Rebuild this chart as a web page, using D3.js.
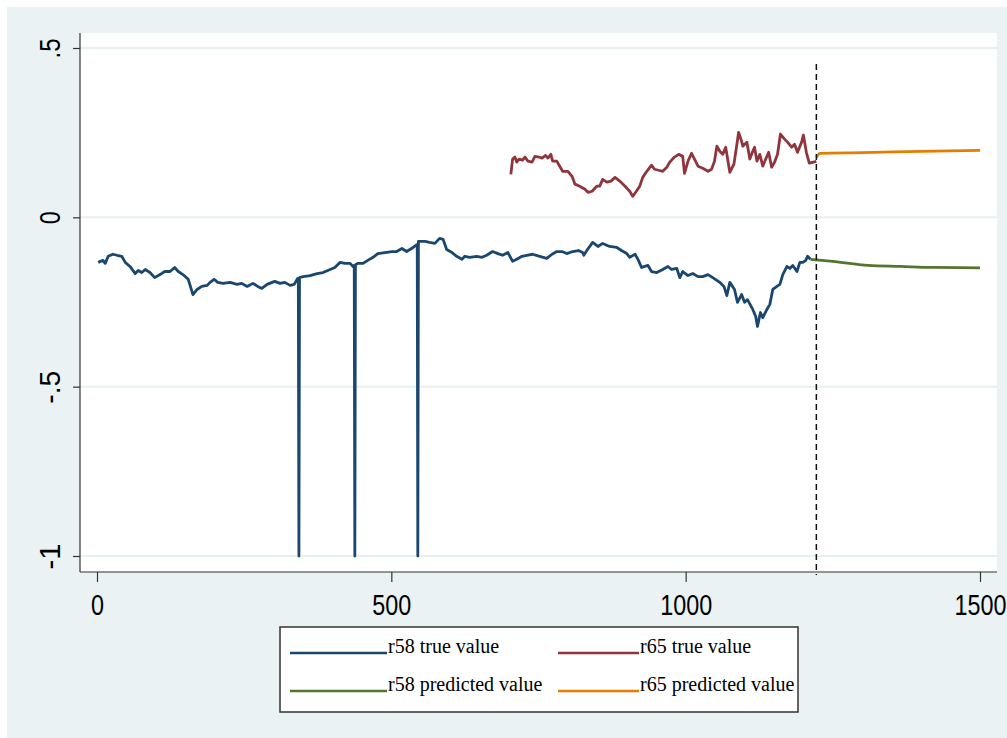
<!DOCTYPE html>
<html>
<head>
<meta charset="utf-8">
<script src="https://cdn.jsdelivr.net/npm/d3@7"></script>
<style>
    body { margin: 0; background: #ffffff; }
    .tick-label { font-family: "Liberation Sans Narrow", "Liberation Sans", Arial, sans-serif; font-size: 29px; fill: #000; }
    .legend-text { font-family: "Liberation Serif", "Times New Roman", serif; font-size: 20px; fill: #000; }
</style>
</head>
<body>
<svg id="chart" width="1007" height="738"></svg>
<script>
// x ticks / y ticks
let xTicks = [0, 500, 1000, 1500];
let yTicks = [-1, -0.5, 0, 0.5];
let yTickLabels = ['-1', '-.5', '0', '.5'];

// the cut between observed and forecast
let cutoff = 1222;

// r58 true value (with the three -1 spikes)
let r58True = [
    [2, -0.133], [10, -0.127], [14, -0.136], [19, -0.115], [27, -0.109], [34, -0.112], [42, -0.115],
    [48, -0.133], [56, -0.145], [65, -0.166], [70, -0.157], [76, -0.163], [82, -0.154], [90, -0.163],
    [98, -0.178], [107, -0.169], [115, -0.160], [124, -0.160], [132, -0.148], [138, -0.160], [146, -0.169],
    [155, -0.183], [163, -0.228], [170, -0.213], [178, -0.204], [187, -0.201], [192, -0.192], [199, -0.183],
    [205, -0.192], [214, -0.195], [226, -0.192], [238, -0.198], [246, -0.195], [255, -0.204], [265, -0.195],
    [273, -0.204], [280, -0.210], [289, -0.198], [302, -0.189], [311, -0.195], [319, -0.192], [328, -0.201],
    [335, -0.198], [341, -0.180], [342, -0.180], [343, -1], [344, -0.178], [350, -0.175], [362, -0.172],
    [374, -0.166], [384, -0.163], [396, -0.154], [404, -0.148], [413, -0.133], [421, -0.136], [430, -0.136],
    [435, -0.145], [437, -0.142], [438, -1], [439, -0.140], [443, -0.136], [452, -0.136], [460, -0.127],
    [469, -0.118], [477, -0.107], [489, -0.104], [501, -0.101], [509, -0.101], [518, -0.092], [526, -0.101],
    [537, -0.089], [544, -0.080], [545, -1], [546, -0.071], [557, -0.071], [565, -0.074], [574, -0.077],
    [582, -0.062], [588, -0.065], [594, -0.095], [603, -0.104], [611, -0.115], [620, -0.124], [625, -0.115],
    [633, -0.118], [645, -0.115], [654, -0.118], [662, -0.112], [672, -0.101], [681, -0.107], [689, -0.112],
    [698, -0.104], [706, -0.130], [713, -0.124], [722, -0.115], [730, -0.112], [740, -0.109], [752, -0.115],
    [764, -0.121], [773, -0.109], [781, -0.101], [790, -0.101], [798, -0.107], [808, -0.101], [818, -0.098],
    [825, -0.104], [827, -0.112], [832, -0.098], [842, -0.074], [851, -0.086], [859, -0.077], [871, -0.086],
    [883, -0.089], [891, -0.098], [900, -0.107], [905, -0.118], [914, -0.109], [919, -0.124], [925, -0.148],
    [936, -0.142], [942, -0.160], [951, -0.163], [961, -0.154], [970, -0.145], [976, -0.154], [985, -0.151],
    [990, -0.178], [995, -0.160], [1004, -0.172], [1012, -0.166], [1021, -0.175], [1029, -0.175], [1038, -0.169],
    [1046, -0.178], [1058, -0.192], [1065, -0.204], [1070, -0.231], [1075, -0.192], [1083, -0.213], [1088, -0.251],
    [1095, -0.228], [1100, -0.251], [1105, -0.243], [1114, -0.272], [1119, -0.293], [1122, -0.322], [1127, -0.281],
    [1131, -0.296], [1138, -0.272], [1143, -0.257], [1148, -0.213], [1155, -0.204], [1160, -0.198], [1165, -0.169],
    [1172, -0.145], [1177, -0.151], [1182, -0.142], [1189, -0.160], [1194, -0.133], [1199, -0.133], [1204, -0.127],
    [1207, -0.115], [1212, -0.124]
];

// r65 true value
let r65True = [
    [703, 0.127], [706, 0.172], [710, 0.178], [713, 0.163], [717, 0.172], [723, 0.169], [727, 0.178],
    [732, 0.166], [739, 0.163], [744, 0.180], [751, 0.178], [756, 0.175], [762, 0.183], [766, 0.175],
    [771, 0.186], [774, 0.166], [781, 0.166], [786, 0.151], [791, 0.136], [800, 0.136], [807, 0.121],
    [812, 0.098], [820, 0.092], [829, 0.083], [834, 0.074], [841, 0.077], [849, 0.092], [854, 0.092],
    [859, 0.112], [866, 0.104], [873, 0.107], [880, 0.118], [888, 0.107], [897, 0.092], [905, 0.077],
    [910, 0.062], [915, 0.074], [922, 0.092], [927, 0.118], [934, 0.136], [942, 0.154], [947, 0.142],
    [954, 0.139], [961, 0.136], [968, 0.148], [973, 0.163], [981, 0.178], [988, 0.186], [995, 0.180],
    [998, 0.130], [1004, 0.166], [1010, 0.189], [1015, 0.172], [1021, 0.151], [1029, 0.145], [1038, 0.136],
    [1044, 0.142], [1049, 0.166], [1053, 0.210], [1058, 0.195], [1063, 0.186], [1068, 0.207], [1075, 0.133],
    [1082, 0.157], [1087, 0.216], [1090, 0.251], [1095, 0.225], [1097, 0.210], [1104, 0.222], [1109, 0.172],
    [1114, 0.195], [1117, 0.207], [1121, 0.166], [1126, 0.186], [1131, 0.151], [1136, 0.172], [1141, 0.192],
    [1146, 0.148], [1151, 0.163], [1156, 0.186], [1161, 0.246], [1168, 0.231], [1173, 0.222], [1180, 0.207],
    [1185, 0.216], [1190, 0.192], [1197, 0.222], [1200, 0.243], [1205, 0.192], [1210, 0.160], [1217, 0.163],
    [1222, 0.165]
];

// forecasts
let r58Pred = [[1212, -0.124], [1250, -0.130], [1310, -0.142], [1365, -0.145], [1420, -0.148], [1500, -0.149]];
let r65Pred = [[1222, 0.176], [1228, 0.189], [1300, 0.191], [1400, 0.195], [1500, 0.198]];

let seriesNames = ['r58 true value', 'r65 true value', 'r58 predicted value', 'r65 predicted value'];
let seriesColors = ['#1a476f', '#90353b', '#55752f', '#e37e00'];

function draw_chart() {
    let svg = d3.select('#chart');

    // graph region background
    svg.append('rect')
        .attr('x', 7).attr('y', 7)
        .attr('width', 1000).attr('height', 731)
        .attr('fill', '#eaf2f3');

    // plot region
    let plot = {left: 80, right: 997, top: 33, bottom: 572};
    svg.append('rect')
        .attr('x', plot.left).attr('y', plot.top)
        .attr('width', plot.right - plot.left)
        .attr('height', plot.bottom - plot.top)
        .attr('fill', '#ffffff');

    let x = d3.scaleLinear().domain([0, 1500]).range([97, 980]);
    let y = d3.scaleLinear().domain([-1, 0.5]).range([556, 48]);

    // grid lines
    svg.selectAll('.grid')
        .data(yTicks)
        .enter()
        .append('line')
        .attr('class', 'grid')
        .attr('x1', plot.left).attr('x2', plot.right)
        .attr('y1', d => y(d)).attr('y2', d => y(d))
        .attr('stroke', '#e8eff1')
        .attr('stroke-width', 2);

    // axes (narrow digits like Stata's condensed font)
    let xAxis = svg.append('g')
        .attr('transform', 'translate(0,' + plot.bottom + ')')
        .call(d3.axisBottom(x).tickValues(xTicks).tickSize(10).tickPadding(12).tickFormat(d3.format('d')));
    xAxis.select('.domain').remove();
    xAxis.attr('font-size', null).attr('font-family', null);
    xAxis.selectAll('line').attr('stroke', '#333').attr('stroke-width', 1.2);
    xAxis.selectAll('text')
        .attr('class', 'tick-label')
        .attr('dy', '0.71em')
        .attr('textLength', d => String(d).length * 13)
        .attr('lengthAdjust', 'spacingAndGlyphs');
    svg.append('line')
        .attr('x1', plot.left).attr('x2', plot.right)
        .attr('y1', plot.bottom).attr('y2', plot.bottom)
        .attr('stroke', '#333').attr('stroke-width', 1.2);

    let yAxis = svg.append('g')
        .attr('transform', 'translate(' + plot.left + ',0)')
        .call(d3.axisLeft(y).tickValues(yTicks).tickSize(7).tickFormat((d, i) => yTickLabels[i]));
    yAxis.select('.domain').remove();
    yAxis.attr('font-size', null).attr('font-family', null);
    yAxis.selectAll('line').attr('stroke', '#333').attr('stroke-width', 1.2);
    yAxis.selectAll('text')
        .attr('class', 'tick-label')
        .attr('x', null).attr('dy', null)
        .attr('text-anchor', 'middle')
        .attr('textLength', (d, i) => yTickLabels[i].replace('.', '').length * 13 + (yTickLabels[i].indexOf('.') >= 0 ? 7 : 0))
        .attr('lengthAdjust', 'spacingAndGlyphs')
        .attr('transform', 'translate(-20,0) rotate(-90)');
    svg.append('line')
        .attr('x1', plot.left).attr('x2', plot.left)
        .attr('y1', plot.top).attr('y2', plot.bottom)
        .attr('stroke', '#333').attr('stroke-width', 1.2);

    // series lines
    let line = d3.line().x(d => x(d[0])).y(d => y(d[1]));
    let smooth = d3.line().x(d => x(d[0])).y(d => y(d[1])).curve(d3.curveMonotoneX);
    let allSeries = [r58True, r65True, r58Pred, r65Pred];
    allSeries.forEach(function (data, i) {
        svg.append('path')
            .datum(data)
            .attr('d', i < 2 ? line : smooth)
            .attr('fill', 'none')
            .attr('stroke', seriesColors[i])
            .attr('stroke-width', 2.8)
            .attr('stroke-linejoin', 'round');
    });

    // dashed cutoff line
    svg.append('line')
        .attr('x1', x(cutoff)).attr('x2', x(cutoff))
        .attr('y1', y(0.453)).attr('y2', plot.bottom + 3)
        .attr('stroke', '#111')
        .attr('stroke-width', 1.5)
        .attr('stroke-dasharray', '6,4');

    // legend
    let legend = svg.append('g');
    legend.append('rect')
        .attr('x', 280).attr('y', 627)
        .attr('width', 518).attr('height', 85)
        .attr('fill', '#ffffff')
        .attr('stroke', '#333')
        .attr('stroke-width', 1.5);
    let cols = [{x1: 290, x2: 387}, {x1: 558, x2: 639}];
    let rows = [653, 691];
    seriesNames.forEach(function (name, i) {
        let c = cols[i % 2], r = rows[Math.floor(i / 2)];
        legend.append('line')
            .attr('x1', c.x1).attr('x2', c.x2)
            .attr('y1', r).attr('y2', r)
            .attr('stroke', seriesColors[i])
            .attr('stroke-width', 2.6);
        legend.append('text')
            .attr('class', 'legend-text')
            .attr('x', c.x2 + 1)
            .attr('y', r)
            .text(name);
    });
}

draw_chart();
</script>
</body>
</html>
